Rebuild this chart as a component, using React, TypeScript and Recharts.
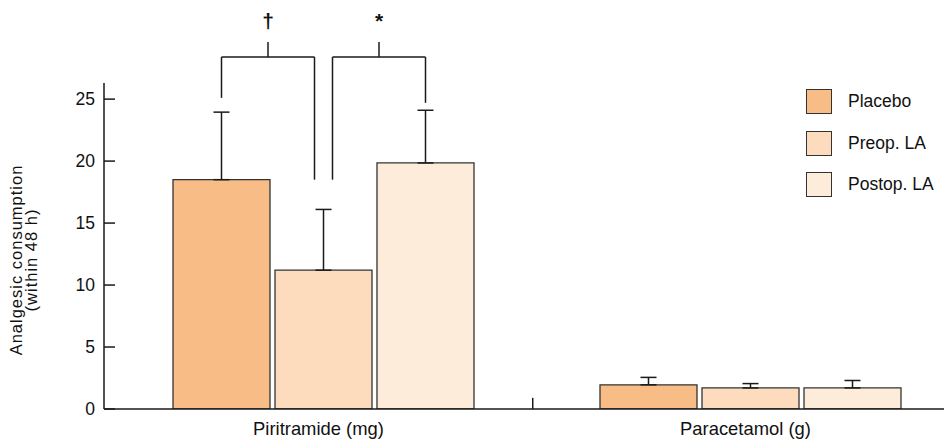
import {
  BarChart,
  Bar,
  XAxis,
  YAxis,
  ErrorBar,
  Legend,
  ReferenceLine,
  ReferenceDot,
  Label,
} from 'recharts';

const categories = ['Piritramide (mg)', 'Paracetamol (g)'];
const groups = ['Placebo', 'Preop. LA', 'Postop. LA'];
const placebo = [18.5, 1.95];
const preop = [11.2, 1.7];
const postop = [19.85, 1.7];
const placeboSd = [5.45, 0.6];
const preopSd = [4.9, 0.35];
const postopSd = [4.25, 0.6];
const yTicks = [0, 5, 10, 15, 20, 25];
const colors = ['#f8bc86', '#fddcbe', '#feecdb'];

// significance brackets over the Piritramide bars (bar index in group, leg ends in mg)
const brackets = [
  { left: 0, right: 1, leftEnd: 25.1, rightEnd: 18.5, leftShift: 0, rightShift: -9, mark: '\u2020' },
  { left: 1, right: 2, leftEnd: 18.5, rightEnd: 24.7, leftShift: 9, rightShift: 0, mark: '*' },
];
const BRACKET_Y = 28.4;
const STEM_Y = 29.6;
const MARK_Y = 30.7;

const data = categories.map((name, i) => ({
  name,
  placebo: placebo[i],
  preop: preop[i],
  postop: postop[i],
  placeboErr: [0, placeboSd[i]],
  preopErr: [0, preopSd[i]],
  postopErr: [0, postopSd[i]],
}));

const FONT = '"Liberation Sans", Arial, Helvetica, sans-serif';
const CHART_W = 944;
const CHART_H = 431;
const Y_AXIS_W = 96;
const X_PAD = { left: 6, right: -12 };
const BAR_SIZE = 97;
const BAR_GAP = 5;
const BAND = (CHART_W - Y_AXIS_W - X_PAD.left - X_PAD.right) / categories.length;
const LINE = { stroke: '#1a1a1a', strokeWidth: 1.5 };

const barX = (cat: number, bar: number) =>
  cat + 0.5 + ((bar - (groups.length - 1) / 2) * (BAR_SIZE + BAR_GAP)) / BAND;

const renderLegend = (props: any) => {
  const items = [...props.payload].sort(
    (a: any, b: any) => groups.indexOf(a.value) - groups.indexOf(b.value)
  );
  return (
    <div style={{ fontFamily: FONT, fontSize: 17.5, color: '#111' }}>
      {items.map((e: any) => (
        <div key={e.value} style={{ display: 'flex', alignItems: 'center', height: 41.5 }}>
          <span
            style={{
              display: 'inline-block',
              width: 24,
              height: 23,
              border: '1.5px solid #333',
              background: e.color,
              marginRight: 16,
            }}
          />
          <span>{e.value}</span>
        </div>
      ))}
    </div>
  );
};

const yLabel = (props: any) => {
  const vb = props.viewBox;
  const x = vb.x + 14;
  const y = vb.y + vb.height / 2 + 14;
  return (
    <text
      transform={`rotate(-90 ${x} ${y})`}
      x={x}
      y={y}
      textAnchor="middle"
      fontSize={16.5}
      letterSpacing={1}
      fill="#111"
    >
      <tspan x={x}>Analgesic consumption</tspan>
      <tspan x={x} dy={14.5}>(within 48 h)</tspan>
    </text>
  );
};

function App() {
  const bars = [
    { key: 'placebo', err: 'placeboErr' },
    { key: 'preop', err: 'preopErr' },
    { key: 'postop', err: 'postopErr' },
  ];
  return (
    <div style={{ fontFamily: FONT }}>
      <BarChart
        width={CHART_W}
        height={CHART_H}
        data={data}
        margin={{ top: 75, right: 0, bottom: 0, left: 0 }}
        barGap={BAR_GAP}
      >
        <XAxis
          dataKey="name"
          interval={0}
          height={30}
          padding={X_PAD}
          tickLine={false}
          tickMargin={7}
          axisLine={LINE}
          tick={{ fontSize: 18.4, fill: '#111', dx: -5 }}
        />
        {/* hidden numeric twin of the category axis, used to place annotations */}
        <XAxis
          xAxisId="sep"
          type="number"
          dataKey={(d: any) => categories.indexOf(d.name)}
          domain={[0, categories.length]}
          padding={X_PAD}
          allowDataOverflow
          hide
        />
        <YAxis
          width={Y_AXIS_W}
          domain={[0, 26.3]}
          ticks={yTicks}
          allowDataOverflow
          interval={0}
          tickSize={-11}
          tickMargin={20}
          axisLine={LINE}
          tickLine={LINE}
          tick={{ fontSize: 17.5, fill: '#111' }}
        >
          <Label content={yLabel} />
        </YAxis>
        {bars.map((b, i) => (
          <Bar
            key={b.key}
            dataKey={b.key}
            name={groups[i]}
            fill={colors[i]}
            stroke="#333"
            strokeWidth={1.3}
            barSize={BAR_SIZE}
            isAnimationActive={false}
          >
            <ErrorBar dataKey={b.err} direction="y" width={8} stroke="#1a1a1a" strokeWidth={1.5} />
          </Bar>
        ))}
        {/* separator tick between the two drug groups */}
        <ReferenceLine
          xAxisId="sep"
          segment={[{ x: 0.99, y: 0 }, { x: 0.99, y: 0.9 }]}
          ifOverflow="visible"
          {...LINE}
        />
        {brackets.map((b, i) => {
          const x1 = barX(0, b.left) + b.leftShift / BAND;
          const x2 = barX(0, b.right) + b.rightShift / BAND;
          const mid = (x1 + x2) / 2;
          return [
            <ReferenceLine
              key={`l${i}`}
              xAxisId="sep"
              segment={[{ x: x1, y: b.leftEnd }, { x: x1, y: BRACKET_Y }]}
              ifOverflow="visible"
              {...LINE}
            />,
            <ReferenceLine
              key={`h${i}`}
              xAxisId="sep"
              segment={[{ x: x1, y: BRACKET_Y }, { x: x2, y: BRACKET_Y }]}
              ifOverflow="visible"
              {...LINE}
            />,
            <ReferenceLine
              key={`r${i}`}
              xAxisId="sep"
              segment={[{ x: x2, y: BRACKET_Y }, { x: x2, y: b.rightEnd }]}
              ifOverflow="visible"
              {...LINE}
            />,
            <ReferenceLine
              key={`s${i}`}
              xAxisId="sep"
              segment={[{ x: mid, y: BRACKET_Y }, { x: mid, y: STEM_Y }]}
              ifOverflow="visible"
              {...LINE}
            />,
            <ReferenceDot
              key={`m${i}`}
              xAxisId="sep"
              x={mid}
              y={MARK_Y}
              r={0}
              fill="none"
              stroke="none"
              ifOverflow="visible"
              label={{
                value: b.mark,
                position: 'top',
                offset: 0,
                fontSize: 21,
                fontWeight: 'bold',
                fill: '#111',
              }}
            />,
          ];
        })}
        <Legend
          layout="vertical"
          align="center"
          verticalAlign="middle"
          content={renderLegend}
          wrapperStyle={{ top: 72.75, left: 798, width: 150 }}
        />
      </BarChart>
    </div>
  );
}

export default App;
